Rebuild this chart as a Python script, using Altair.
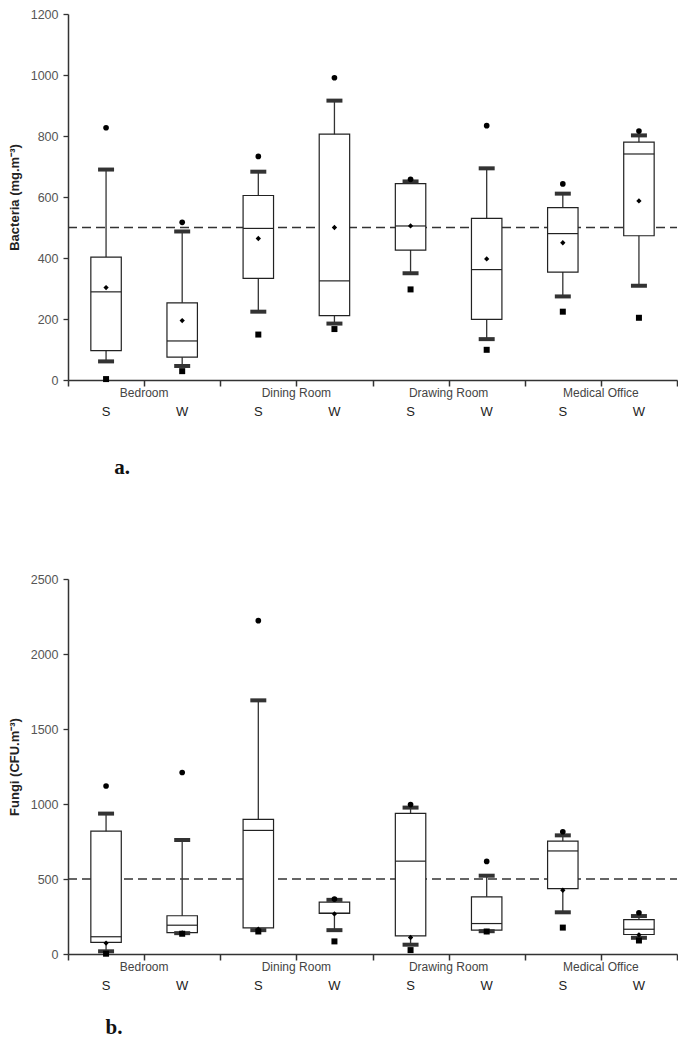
import altair as alt
import pandas as pd

rooms = ["Bedroom", "Dining Room", "Drawing Room", "Medical Office"]
seasons = ["S", "W"]

# order: Bedroom S, Bedroom W, Dining S, Dining W, Drawing S, Drawing W, Medical S, Medical W
bac_min = [3, 29, 149, 167, 297, 99, 224, 204]
bac_wlo = [61, 46, 224, 185, 350, 134, 274, 309]
bac_q1 = [96, 75, 333, 211, 426, 199, 354, 473]
bac_med = [289, 128, 497, 325, 505, 362, 480, 741]
bac_mean = [303, 195, 464, 500, 505, 397, 450, 587]
bac_q3 = [403, 253, 605, 806, 644, 530, 565, 780]
bac_whi = [690, 487, 683, 916, 651, 694, 611, 802]
bac_max = [827, 517, 733, 991, 658, 834, 643, 816]

fun_min = [2, 135, 150, 84, 26, 150, 176, 90]
fun_wlo = [18, 139, 159, 159, 62, 152, 278, 108]
fun_q1 = [77, 143, 174, 271, 121, 159, 436, 130]
fun_med = [115, 192, 824, 272, 619, 203, 687, 165]
fun_mean = [73, 140, 165, 267, 110, 150, 425, 128]
fun_q3 = [819, 255, 898, 346, 938, 381, 753, 229]
fun_whi = [936, 760, 1691, 361, 976, 522, 791, 253]
fun_max = [1120, 1210, 2222, 366, 996, 617, 815, 275]

guideline = 500
FONT = "Liberation Sans"
W = 609


def panel(mn, wlo, q1, med, mean, q3, whi, mx, ymax, ystep, ytitle, letter, h, letter_x, letter_dy):
    n = len(q1)
    df = pd.DataFrame({
        "pos": [i + 0.5 for i in range(n)],
        "min": mn, "wlo": wlo, "q1": q1, "med": med, "mean": mean,
        "q3": q3, "whi": whi, "max": mx,
    })
    base = alt.Chart(df).transform_calculate(
        lo="datum.pos - 0.2", hi="datum.pos + 0.2",
        cl="datum.pos - 0.105", ch="datum.pos + 0.105",
    )
    xs = alt.Scale(domain=[0, 2 * len(rooms)], nice=False, zero=False)
    ys = alt.Scale(domain=[0, ymax], nice=False)
    xaxis = alt.Axis(values=list(range(2 * len(rooms) + 1)), labels=False, title="",
                     grid=False, tickSize=6, tickColor="#333", tickWidth=1.5,
                     domainColor="#333", domainWidth=1.5)
    yaxis = alt.Axis(values=list(range(0, ymax + 1, ystep)), format="d", title=ytitle, grid=False,
                     tickSize=5, tickColor="#333", tickWidth=1.3,
                     domainColor="#333", domainWidth=1.5,
                     labelFont=FONT, labelFontSize=12.5, labelColor="#555",
                     labelPadding=5, titleFont=FONT, titleFontSize=13,
                     titleFontWeight="bold", titleColor="#222", titlePadding=9)

    def X(f):
        return alt.X(f, scale=xs, axis=xaxis)

    def Y(f):
        return alt.Y(f, scale=ys, axis=yaxis)

    whisk = base.mark_rule(color="#333", strokeWidth=1.3).encode(
        x=X("pos:Q"), y=Y("wlo:Q"), y2="whi:Q")
    box = base.mark_rect(fill="white", stroke="#222", strokeWidth=1.2).encode(
        x=X("lo:Q"), x2="hi:Q", y=Y("q1:Q"), y2="q3:Q")
    medl = base.mark_rule(color="#222", strokeWidth=1.2).encode(
        x=X("lo:Q"), x2="hi:Q", y=Y("med:Q"))
    caph = base.mark_rule(color="#333", strokeWidth=4).encode(
        x=X("cl:Q"), x2="ch:Q", y=Y("whi:Q"))
    capl = base.mark_rule(color="#333", strokeWidth=4).encode(
        x=X("cl:Q"), x2="ch:Q", y=Y("wlo:Q"))
    meanp = base.mark_point(shape="diamond", filled=True, size=28, color="black", opacity=1).encode(
        x=X("pos:Q"), y=Y("mean:Q"))
    maxp = base.mark_circle(size=32, color="black", opacity=1).encode(
        x=X("pos:Q"), y=Y("max:Q"))
    minp = base.mark_square(size=36, color="black", opacity=1).encode(
        x=X("pos:Q"), y=Y("min:Q"))

    dash = alt.Chart(pd.DataFrame({"y": [guideline]})).mark_rule(
        strokeDash=[9, 5], color="#333", strokeWidth=1.3).encode(
        y=Y("y:Q"), x=alt.value(0), x2=alt.value(W))

    cat_df = pd.DataFrame({"room": rooms, "pos": [2 * i + 1 for i in range(len(rooms))]})
    cats = alt.Chart(cat_df).mark_text(font=FONT, fontSize=12, color="#444", baseline="middle").encode(
        x=X("pos:Q"), y=alt.value(h + 13), text="room:N")

    sea_df = pd.DataFrame({"s": seasons * len(rooms), "pos": [i + 0.5 for i in range(2 * len(rooms))]})
    seas = alt.Chart(sea_df).mark_text(font=FONT, fontSize=13, color="#222", baseline="middle").encode(
        x=X("pos:Q"), y=alt.value(h + 32), text="s:N")

    let = alt.Chart(pd.DataFrame({"t": [letter]})).mark_text(
        font="Liberation Serif", fontSize=21, fontWeight="bold", color="#111",
        baseline="middle", align="center").encode(
        x=alt.value(letter_x), y=alt.value(h + letter_dy), text="t:N")

    return alt.layer(whisk, dash, box, medl, caph, capl, meanp, maxp, minp, cats, seas, let).properties(
        width=W, height=h)


pa = panel(bac_min, bac_wlo, bac_q1, bac_med, bac_mean, bac_q3, bac_whi, bac_max,
           1200, 200, "Bacteria (mg.m⁻³)", "a.", 366, 54, 88)
pb = panel(fun_min, fun_wlo, fun_q1, fun_med, fun_mean, fun_q3, fun_whi, fun_max,
           2500, 500, "Fungi (CFU.m⁻³)", "b.", 375, 46, 74)

chart = alt.vconcat(pa, pb, spacing=95).properties(padding=0).configure_view(stroke=None)
chart.save("out.html", embed_options={"renderer": "svg", "actions": False})
